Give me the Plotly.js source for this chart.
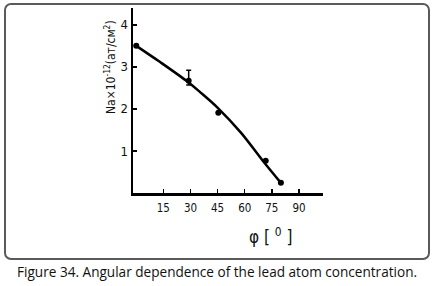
<!DOCTYPE html>
<html>
<head>
<meta charset="utf-8">
<script src="https://cdn.plot.ly/plotly-3.0.1.min.js"></script>
<style>
  html, body { margin: 0; padding: 0; background: #ffffff; }
  #wrap { position: relative; width: 435px; height: 286px; }
  #frame { position: absolute; left: 4px; top: 3px; width: 422px; height: 253px;
           border: 2px solid #5a5a5a; border-radius: 7px; }
  #chart { position: absolute; left: 0; top: 0; width: 435px; height: 286px; }
</style>
</head>
<body>
<div id="wrap">
  <div id="frame"></div>
  <div id="chart"></div>
</div>
<script>
// Fitted curve
const curveAngle = [0, 13, 28.6, 35.3, 45.2, 58, 70.1, 80];
const curveConc  = [3.5, 3.12, 2.64, 2.40, 2.02, 1.43, 0.76, 0.24];

// Measured points
const pointAngle = [0, 29, 45.4, 71.6, 80];
const pointConc  = [3.5, 2.67, 1.91, 0.77, 0.245];
const errPlus    = [0, 0.25, 0, 0, 0];
const errMinus   = [0, 0.1, 0, 0, 0];

// Ticks
const xTicks = [15, 30, 45, 60, 75, 90];
const yTicks = [1, 2, 3, 4];

const yTitle = 'Na×10<sup>-12</sup>(ат/см<sup>2</sup>)';
const xTitle = 'φ [ <sup>0</sup> ]';
const caption = 'Figure 34. Angular dependence of the lead atom concentration.';

const tickFont = 'DejaVu Sans Condensed, DejaVu Sans, sans-serif';

const traces = [
  {
    x: curveAngle, y: curveConc, type: 'scatter', mode: 'lines',
    line: { color: '#000', width: 2.5, shape: 'spline', smoothing: 1 },
    hoverinfo: 'skip', showlegend: false
  },
  {
    x: pointAngle, y: pointConc, type: 'scatter', mode: 'markers',
    marker: { color: '#000', size: 6 },
    error_y: { type: 'data', symmetric: false, array: errPlus, arrayminus: errMinus,
               color: '#000', thickness: 1.5, width: 2.5 },
    showlegend: false
  }
];

const layout = {
  width: 435, height: 286,
  margin: { l: 133, r: 112, t: 8, b: 93 },
  paper_bgcolor: 'rgba(0,0,0,0)',
  plot_bgcolor: 'rgba(0,0,0,0)',
  showlegend: false,
  xaxis: {
    range: [-1.8, 103.3], tickvals: xTicks, ticktext: xTicks.map(String),
    showgrid: false, zeroline: false, showline: true, linecolor: '#000', linewidth: 2.5,
    ticks: 'inside', ticklen: 4, tickwidth: 1.5, tickcolor: '#000',
    tickfont: { family: tickFont, size: 11.5, color: '#111' },
    ticklabelstandoff: 3
  },
  yaxis: {
    range: [0, 4.4], tickvals: yTicks, ticktext: yTicks.map(String),
    showgrid: false, zeroline: false, showline: true, linecolor: '#000', linewidth: 2.5,
    ticks: 'inside', ticklen: 4, tickwidth: 1.5, tickcolor: '#000',
    tickfont: { family: tickFont, size: 13, color: '#111' }
  },
  annotations: [
    { text: yTitle, xref: 'paper', yref: 'paper', x: -0.121, y: 0.681,
      xanchor: 'center', yanchor: 'middle', textangle: -90, showarrow: false,
      font: { family: tickFont, size: 12, color: '#111' } },
    { text: xTitle, xref: 'paper', yref: 'paper', x: 0.726, y: -0.232,
      xanchor: 'center', yanchor: 'middle', showarrow: false,
      font: { family: tickFont, size: 17, color: '#111' } },
    { text: caption, xref: 'paper', yref: 'paper', x: 0.4447, y: -0.427,
      xanchor: 'center', yanchor: 'middle', showarrow: false,
      font: { family: 'Open Sans, Noto Sans, sans-serif', size: 13.6, color: '#111' } }
  ]
};

Plotly.newPlot('chart', traces, layout, { staticPlot: true, displayModeBar: false });
</script>
</body>
</html>
